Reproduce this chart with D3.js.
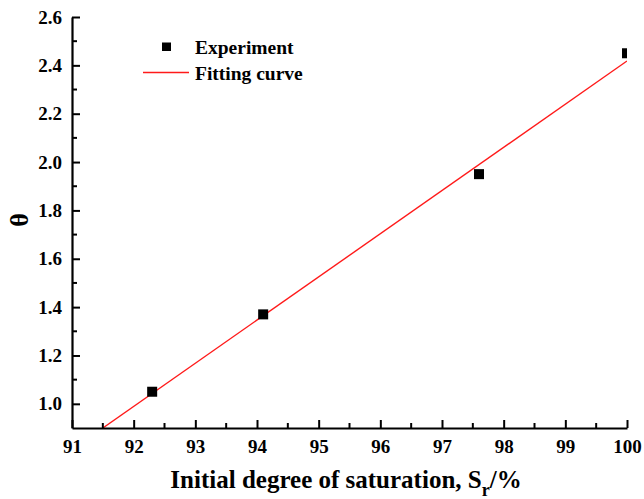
<!DOCTYPE html>
<html>
<head>
<meta charset="utf-8">
<script src="https://cdn.jsdelivr.net/npm/d3@7"></script>
<style>
  html, body { margin: 0; padding: 0; background: #fff; }
  svg { display: block; }
  svg text { font-family: "Times New Roman", "Liberation Serif", serif !important; font-weight: bold; fill: #000; }
</style>
</head>
<body>
<svg id="chart" width="644" height="499"></svg>
<script>
// Experimental points
const saturation = [92.3, 94.1, 97.6, 100.0];
const theta = [1.05, 1.37, 1.95, 2.45];

// Linear fit, given by its two end points
const fitSaturation = [91.5, 100.0];
const fitTheta = [0.9, 2.418];

// Tick values
const xTicks = [91, 92, 93, 94, 95, 96, 97, 98, 99, 100];
const xMinorTicks = [91.5, 92.5, 93.5, 94.5, 95.5, 96.5, 97.5, 98.5, 99.5];
const yTicks = [1.0, 1.2, 1.4, 1.6, 1.8, 2.0, 2.2, 2.4, 2.6];
const yMinorTicks = [1.1, 1.3, 1.5, 1.7, 1.9, 2.1, 2.3, 2.5];

const legendLabels = ["Experiment", "Fitting curve"];

const svg = d3.select("#chart");
const margin = { left: 72, right: 17, top: 17, bottom: 71 };
const W = 644, H = 499;
const x = d3.scaleLinear().domain([91, 100]).range([margin.left, W - margin.right]);
const y = d3.scaleLinear().domain([0.9, 2.6]).range([H - margin.bottom, margin.top]);

svg.append("defs").append("clipPath").attr("id", "plotClip")
  .append("rect")
  .attr("x", x(91)).attr("y", y(2.6))
  .attr("width", x(100) - x(91)).attr("height", y(0.9) - y(2.6));

const plot = svg.append("g").attr("clip-path", "url(#plotClip)");

// Fitted line
const line = d3.line().x(d => x(d[0])).y(d => y(d[1]));
plot.append("path")
  .datum(d3.zip(fitSaturation, fitTheta))
  .attr("d", line)
  .attr("fill", "none")
  .attr("stroke", "#ff1a1a")
  .attr("stroke-width", 1.4);

// Experiment markers
const ms = 10;
plot.selectAll("rect.pt")
  .data(d3.zip(saturation, theta))
  .join("rect")
  .attr("class", "pt")
  .attr("x", d => x(d[0]) - ms / 2)
  .attr("y", d => y(d[1]) - ms / 2)
  .attr("width", ms).attr("height", ms)
  .attr("fill", "#000");

// Axes (ticks pointing inward)
const xAxis = d3.axisBottom(x).tickValues(xTicks).tickFormat(d3.format("d"))
  .tickSizeInner(-8).tickSizeOuter(0).tickPadding(11.5);
const gx = svg.append("g").attr("transform", `translate(0,${y(0.9)})`).call(xAxis);
gx.selectAll(".tick line").attr("stroke-width", 2);
gx.selectAll(".tick text").attr("font-size", 19);
gx.select(".domain").attr("stroke-width", 2.2);
gx.selectAll(".minor").data(xMinorTicks).join("line")
  .attr("class", "minor")
  .attr("x1", d => x(d)).attr("x2", d => x(d))
  .attr("y1", 0).attr("y2", -5)
  .attr("stroke", "#000").attr("stroke-width", 2);

const yAxis = d3.axisLeft(y).tickValues(yTicks).tickFormat(d3.format(".1f"))
  .tickSizeInner(-8).tickSizeOuter(0).tickPadding(10);
const gy = svg.append("g").attr("transform", `translate(${x(91)},0)`).call(yAxis);
gy.selectAll(".tick line").attr("stroke-width", 2);
gy.selectAll(".tick text").attr("font-size", 19);
gy.select(".domain").attr("stroke-width", 2.2);
gy.selectAll(".minor").data(yMinorTicks).join("line")
  .attr("class", "minor")
  .attr("x1", 0).attr("x2", 5)
  .attr("y1", d => y(d)).attr("y2", d => y(d))
  .attr("stroke", "#000").attr("stroke-width", 2);

// Axis titles
const xt = svg.append("text")
  .attr("x", 346).attr("y", 488)
  .attr("text-anchor", "middle")
  .attr("font-size", 25);
xt.append("tspan").text("Initial degree of saturation, S");
xt.append("tspan").attr("dy", 8).attr("font-size", 18).text("r");
xt.append("tspan").attr("dy", -8).text("/%");

svg.append("text")
  .attr("transform", "translate(28,220) rotate(-90)")
  .attr("text-anchor", "middle")
  .attr("font-size", 26)
  .text("θ");

// Legend
const lg = svg.append("g");
lg.append("rect").attr("x", 162).attr("y", 42.5).attr("width", 9).attr("height", 8.5).attr("fill", "#000");
lg.append("line").attr("x1", 143).attr("x2", 189).attr("y1", 72.5).attr("y2", 72.5)
  .attr("stroke", "#ff1a1a").attr("stroke-width", 1.4);
lg.selectAll("text").data(legendLabels).join("text")
  .attr("x", 195).attr("y", (d, i) => 53.5 + i * 26.5)
  .attr("font-size", 19.5)
  .text(d => d);
</script>
</body>
</html>
